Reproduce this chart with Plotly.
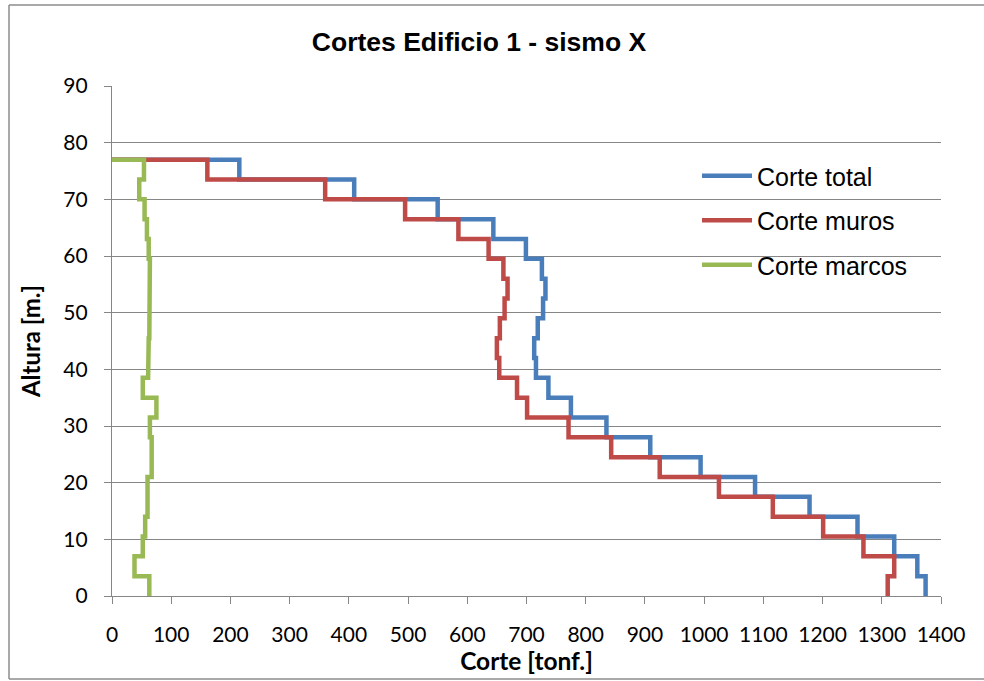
import plotly.graph_objects as go

# Story levels [m] (bottom to top)
story_levels = [0, 3.5, 7, 10.5, 14, 17.5, 21, 24.5, 28, 31.5, 35, 38.5, 42,
                45.5, 49, 52.5, 56, 59.5, 63, 66.5, 70, 73.5, 77]

# Story shears [tonf] for each story (story 1 at bottom ... story 22 at top)
corte_total = [1374, 1360, 1321, 1259, 1178, 1086, 994, 909, 835, 775, 737,
               716, 713, 719, 728, 732, 726, 699, 644, 550, 409, 215]
corte_muros = [1310, 1321, 1269, 1201, 1116, 1025, 925, 843, 771, 701, 684,
               654, 650, 655, 663, 668, 661, 636, 585, 495, 360, 161]
corte_marcos = [63, 38, 52, 56, 60, 60, 67, 67, 64, 75, 52,
                61, 62, 63, 64, 64, 64, 62, 59, 55, 46, 54]
roof_shear = 0

series_names = ["Corte total", "Corte muros", "Corte marcos"]
series_colors = ["#4A7EBB", "#BE4B48", "#98B954"]
x_ticks = list(range(0, 1401, 100))
y_ticks = list(range(0, 91, 10))


def step_profile(values):
    xs, ys = [], []
    for i, v in enumerate(values):
        xs += [v, v]
        ys += [story_levels[i], story_levels[i + 1]]
    xs.append(roof_shear)
    ys.append(story_levels[-1])
    return xs, ys


fig = go.Figure()
for name, vals, col in zip(series_names, [corte_total, corte_muros, corte_marcos], series_colors):
    xs, ys = step_profile(vals)
    fig.add_trace(go.Scatter(x=xs, y=ys, mode="lines", name=name, legendgroup=name,
                             line=dict(color=col, width=4.5)))

W, H = 984, 681
L, R, T, B = 112, 941, 86, 596
pw, ph = R - L, B - T

def px_x(p):
    return (p - L) / pw

def px_y(p):
    return (B - p) / ph

grid_col = "#868686"
border = dict(color="#8c8c8c", width=1.5)
tick_font = dict(family="Lato", size=21, color="#000000")
bx0, bx1, by0, by1 = px_x(9), px_x(1000), px_y(679), px_y(5)
fig.update_layout(
    width=W, height=H,
    margin=dict(l=L, r=W - R, t=T, b=H - B),
    paper_bgcolor="white", plot_bgcolor="white",
    title=dict(text="<b>Cortes Edificio 1 - sismo X</b>", x=479 / W, xref="container",
               xanchor="center", y=1 - 42 / H, yref="container", yanchor="middle",
               font=dict(family="Liberation Sans", size=26.5, color="#000000")),
    xaxis=dict(range=[0, 1400], tickvals=x_ticks, ticks="outside", ticklen=7, tickcolor=grid_col,
               tickwidth=1.3, showgrid=False, zeroline=False, showline=True, linecolor=grid_col,
               linewidth=1.3, tickfont=tick_font, ticklabelstandoff=13,
               title=dict(text="<b>Corte [tonf.]</b>", font=dict(family="Lato", size=24.5, color="#000000"),
                          standoff=1)),
    yaxis=dict(range=[0, 90], tickvals=y_ticks, ticks="outside", ticklen=7, tickcolor=grid_col,
               tickwidth=1.3, showgrid=True, gridcolor=grid_col, gridwidth=1.3, zeroline=False,
               showline=True, linecolor=grid_col, linewidth=1.3, tickfont=tick_font,
               ticklabelstandoff=12,
               title=dict(text="<b>Altura [m.]</b>", font=dict(family="Lato", size=24, color="#000000"),
                          standoff=15)),
    legend=dict(x=px_x(697), y=px_y(153), xanchor="left", yanchor="top",
                font=dict(family="Liberation Sans", size=25, color="#000000"),
                bgcolor="rgba(255,255,255,0)", itemwidth=50, tracegroupgap=9,
                traceorder="grouped"),
    shapes=[
        dict(type="line", xref="paper", yref="paper", x0=bx0, x1=bx0, y0=by0, y1=by1, line=border),
        dict(type="line", xref="paper", yref="paper", x0=bx0, x1=bx1, y0=by1, y1=by1, line=border),
        dict(type="line", xref="paper", yref="paper", x0=bx0, x1=bx1, y0=by0, y1=by0, line=border),
    ],
)

fig.write_html("out.html", config={"displayModeBar": False},
               post_script="document.body.style.margin='0px';document.body.style.overflow='hidden';")
